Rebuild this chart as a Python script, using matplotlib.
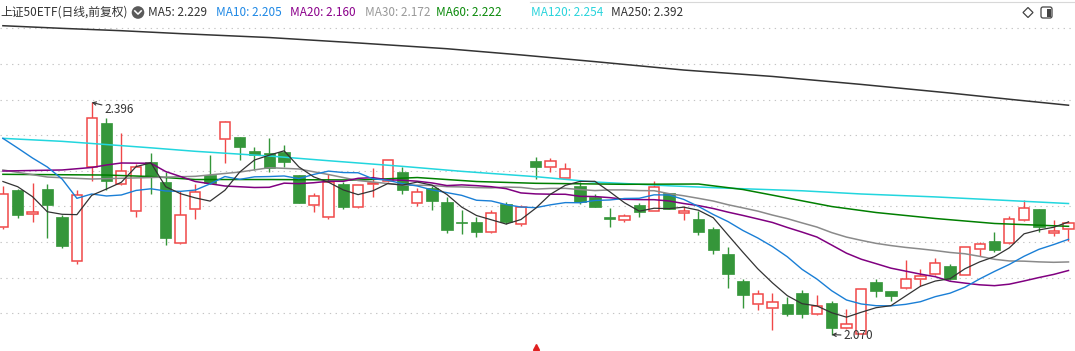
import matplotlib
matplotlib.use("Agg")
import matplotlib.pyplot as plt
from matplotlib.patches import Rectangle, Circle, FancyBboxPatch, Polygon
from matplotlib.lines import Line2D
from matplotlib.transforms import IdentityTransform

plt.rcParams['font.family'] = ['Noto Sans CJK SC', 'DejaVu Sans']

# ---------------- data ----------------
opens = [2.2205, 2.2729, 2.2397, 2.2743, 2.2350, 2.1728, 2.3052, 2.3670, 2.2809, 2.2439,
         2.3122, 2.2837, 2.1980, 2.2458, 2.2935, 2.3441, 2.3473, 2.3277, 2.3249, 2.3263,
         2.2940, 2.2514, 2.2345, 2.2813, 2.2486, 2.2809, 2.2856, 2.2982, 2.2542, 2.2757,
         2.2561, 2.2280, 2.2280, 2.2135, 2.2533, 2.2247, 2.3136, 2.3047, 2.2893, 2.2785,
         2.2626, 2.2350, 2.2313, 2.2519, 2.2439, 2.2682, 2.2411, 2.2322, 2.2182, 2.1831,
         2.1452, 2.1124, 2.1068, 2.1124, 2.1283, 2.0993, 2.1138, 2.0787, 2.0715, 2.1433,
         2.1306, 2.1358, 2.1475, 2.1545, 2.1657, 2.1531, 2.1906, 2.2018, 2.1980, 2.2303,
         2.2458, 2.2121, 2.2177]
highs = [2.2790, 2.2739, 2.2827, 2.2813, 2.2378, 2.2725, 2.3960, 2.3745, 2.3529, 2.3090,
         2.3244, 2.2977, 2.2720, 2.2809, 2.3221, 2.3698, 2.3473, 2.3333, 2.3464, 2.3361,
         2.2945, 2.2687, 2.2959, 2.2837, 2.2800, 2.3038, 2.3146, 2.3057, 2.2753, 2.2790,
         2.2631, 2.2444, 2.2350, 2.2444, 2.2556, 2.2519, 2.3188, 2.3178, 2.3104, 2.2837,
         2.2673, 2.2481, 2.2392, 2.2551, 2.2856, 2.2682, 2.2500, 2.2434, 2.2210, 2.1929,
         2.1480, 2.1325, 2.1278, 2.1222, 2.1325, 2.1255, 2.1171, 2.1054, 2.1340, 2.1484,
         2.1306, 2.1746, 2.1620, 2.1770, 2.1686, 2.1934, 2.1999, 2.2144, 2.2364, 2.2584,
         2.2460, 2.2303, 2.2289]
lows = [2.2177, 2.2341, 2.2285, 2.2060, 2.1920, 2.1695, 2.2860, 2.2729, 2.2800, 2.2355,
        2.2678, 2.1962, 2.1975, 2.2327, 2.2809, 2.3113, 2.3146, 2.3010, 2.2987, 2.3057,
        2.2545, 2.2425, 2.2327, 2.2467, 2.2480, 2.2636, 2.2837, 2.2668, 2.2505, 2.2453,
        2.2130, 2.2116, 2.2074, 2.2130, 2.2247, 2.2228, 2.2879, 2.2987, 2.2893, 2.2537,
        2.2491, 2.2214, 2.2285, 2.2355, 2.2435, 2.2462, 2.2308, 2.2102, 2.1835, 2.1358,
        2.1077, 2.1049, 2.0759, 2.0955, 2.0927, 2.0974, 2.0700, 2.0782, 2.0710, 2.1232,
        2.1175, 2.1344, 2.1381, 2.1536, 2.1466, 2.1531, 2.1807, 2.1863, 2.1978, 2.2300,
        2.2144, 2.2088, 2.2018]
closes = [2.2678, 2.2378, 2.2416, 2.2523, 2.1948, 2.2654, 2.3735, 2.2860, 2.2991, 2.3052,
          2.2916, 2.2060, 2.2373, 2.2696, 2.2823, 2.3679, 2.3338, 2.3221, 2.3033, 2.3127,
          2.2551, 2.2640, 2.2842, 2.2495, 2.2795, 2.2823, 2.3146, 2.2734, 2.2706, 2.2579,
          2.2172, 2.2261, 2.2144, 2.2402, 2.2280, 2.2486, 2.3057, 2.3132, 2.3019, 2.2561,
          2.2491, 2.2327, 2.2359, 2.2425, 2.2767, 2.2462, 2.2434, 2.2144, 2.1891, 2.1555,
          2.1260, 2.1274, 2.1152, 2.0993, 2.0993, 2.1101, 2.0796, 2.0843, 2.1335, 2.1316,
          2.1241, 2.1480, 2.1522, 2.1700, 2.1484, 2.1934, 2.1966, 2.1887, 2.2317, 2.2472,
          2.2205, 2.2154, 2.2261]

ma5 = [2.2849, 2.2776, 2.2636, 2.2425, 2.2389, 2.2384, 2.2655, 2.2744, 2.2838, 2.3058,
       2.3111, 2.2776, 2.2678, 2.2619, 2.2574, 2.2726, 2.2982, 2.3151, 2.3219, 2.3280,
       2.3054, 2.2914, 2.2839, 2.2731, 2.2665, 2.2719, 2.2820, 2.2799, 2.2841, 2.2798,
       2.2667, 2.2490, 2.2372, 2.2312, 2.2252, 2.2315, 2.2474, 2.2671, 2.2795, 2.2851,
       2.2852, 2.2706, 2.2551, 2.2433, 2.2474, 2.2468, 2.2489, 2.2446, 2.2340, 2.2097,
       2.1857, 2.1625, 2.1426, 2.1247, 2.1134, 2.1103, 2.1007, 2.0945, 2.1014, 2.1078,
       2.1106, 2.1243, 2.1379, 2.1452, 2.1485, 2.1624, 2.1721, 2.1794, 2.1918, 2.2115,
       2.2169, 2.2207, 2.2282]
ma10 = [2.3455, 2.3319, 2.3179, 2.3053, 2.2884, 2.2613, 2.2674, 2.2646, 2.2660, 2.2724,
        2.2747, 2.2716, 2.2711, 2.2729, 2.2816, 2.2919, 2.2879, 2.2915, 2.2919, 2.2927,
        2.2890, 2.2948, 2.2995, 2.2975, 2.2972, 2.2887, 2.2867, 2.2819, 2.2786, 2.2731,
        2.2693, 2.2655, 2.2586, 2.2576, 2.2525, 2.2491, 2.2482, 2.2522, 2.2553, 2.2551,
        2.2583, 2.2590, 2.2611, 2.2614, 2.2662, 2.2660, 2.2598, 2.2499, 2.2386, 2.2286,
        2.2162, 2.2057, 2.1936, 2.1793, 2.1616, 2.1480, 2.1316, 2.1186, 2.1130, 2.1106,
        2.1104, 2.1125, 2.1162, 2.1233, 2.1282, 2.1365, 2.1482, 2.1587, 2.1685, 2.1800,
        2.1897, 2.1964, 2.2038]
ma20_idx = [0, 2, 4, 6, 7, 8, 10, 11, 13, 15, 17, 18] + list(range(19, 73))
ma20 = [2.2996, 2.3004, 2.3011, 2.3046, 2.3081, 2.3109, 2.3105, 2.2989, 2.2849, 2.2786,
        2.2765, 2.2768,
        2.2826, 2.2819, 2.2832, 2.2853, 2.2852, 2.2894, 2.2903, 2.2873, 2.2867, 2.2853,
        2.2829, 2.2792, 2.2802, 2.2791, 2.2776, 2.2749, 2.2689, 2.2675, 2.2671, 2.2670,
        2.2641, 2.2638, 2.2623, 2.2599, 2.2595, 2.2594, 2.2576, 2.2540, 2.2511, 2.2470,
        2.2419, 2.2373, 2.2324, 2.2274, 2.2204, 2.2139, 2.2070, 2.1957, 2.1843, 2.1758,
        2.1696, 2.1633, 2.1591, 2.1549, 2.1513, 2.1449, 2.1423, 2.1399, 2.1387, 2.1408,
        2.1453, 2.1501, 2.1545, 2.1600]
ma30_idx = [0, 3, 6, 10, 13, 16, 18, 20, 22, 24, 27] + list(range(29, 73))
ma30 = [2.3011, 2.2912, 2.2884, 2.2905, 2.2922, 2.2982, 2.3043, 2.3025, 2.2947, 2.2863,
        2.2800,
        2.2794, 2.2777, 2.2773, 2.2764, 2.2760, 2.2771, 2.2766, 2.2743, 2.2752, 2.2753,
        2.2736, 2.2722, 2.2731, 2.2731, 2.2722, 2.2720, 2.2679, 2.2649, 2.2613, 2.2575,
        2.2523, 2.2479, 2.2434, 2.2378, 2.2328, 2.2268, 2.2210, 2.2132, 2.2069, 2.2023,
        2.1981, 2.1950, 2.1924, 2.1903, 2.1880, 2.1853, 2.1835, 2.1799, 2.1757, 2.1734,
        2.1731, 2.1721, 2.1715, 2.1720]
ma60_idx = [0, 7, 10, 13, 18, 24, 28, 32, 36, 42, 47, 50, 53, 56, 59, 63, 67, 72]
ma60 = [2.2950, 2.2940, 2.2919, 2.2877, 2.2877, 2.2870, 2.2905, 2.2849, 2.2824, 2.2810,
        2.2814, 2.2737, 2.2618, 2.2498, 2.2414, 2.2330, 2.2260, 2.2220]
ma120_idx = [0, 4, 7, 10, 13, 18, 22, 27, 31, 36, 40, 45, 49, 54, 58, 63, 67, 72]
ma120 = [2.3455, 2.3413, 2.3368, 2.3322, 2.3273, 2.3207, 2.3141, 2.3062, 2.2992, 2.2917,
         2.2842, 2.2789, 2.2755, 2.2719, 2.2674, 2.2633, 2.2592, 2.2540]
ma250_idx = [0, 4, 8, 12, 18, 24, 30, 35, 40, 46, 52, 58, 64, 68, 72]
ma250 = [2.5036, 2.4999, 2.4966, 2.4925, 2.4870, 2.4794, 2.4713, 2.4626, 2.4532, 2.4414,
         2.4324, 2.4212, 2.4091, 2.4004, 2.3920]

grid_levels = [2.10, 2.15, 2.20, 2.25, 2.30, 2.35, 2.40, 2.45, 2.50]
title = "上证50ETF(日线,前复权)"
legend_items = [("MA5: 2.229", "#333333", 148), ("MA10: 2.205", "#1e88e5", 216),
                ("MA20: 2.160", "#8b008b", 290), ("MA30: 2.172", "#999999", 365),
                ("MA60: 2.222", "#0b8a0b", 436), ("MA120: 2.254", "#2ad4dc", 531),
                ("MA250: 2.392", "#333333", 611)]

# ---------------- styling ----------------
UP = "#f04848"
DOWN = "#35963a"
W, H = 1075, 351
fig = plt.figure(figsize=(W / 100, H / 100), dpi=100, facecolor="white")
ax = fig.add_axes([0, 0, 1, 1])
ax.set_facecolor("white")
ax.axis("off")
ax.set_xlim(-0.196, 72.44)
ax.set_ylim(2.0470, 2.5397)

for g in grid_levels:
    ax.axhline(g, color="#c4c4c4", lw=0.8, linestyle=(0, (1.2, 4)), zorder=0)

bw = 0.68
for i, (o, h, l, c) in enumerate(zip(opens, highs, lows, closes)):
    top, bot = max(o, c), min(o, c)
    hgt = max(top - bot, 0.0006)
    if c >= o:
        ax.plot([i, i], [top, h], color=UP, lw=1.0, zorder=2, solid_capstyle="butt")
        ax.plot([i, i], [l, bot], color=UP, lw=1.0, zorder=2, solid_capstyle="butt")
        ax.add_patch(Rectangle((i - bw / 2, bot), bw, hgt, facecolor="white",
                               edgecolor=UP, lw=1.1, zorder=3))
    else:
        ax.plot([i, i], [l, h], color=DOWN, lw=1.0, zorder=2, solid_capstyle="butt")
        ax.add_patch(Rectangle((i - bw / 2 - 0.04, bot), bw + 0.08, hgt, facecolor=DOWN,
                               edgecolor=DOWN, lw=0.5, zorder=3))

x_all = list(range(len(closes)))
ax.plot(ma250_idx, ma250, color="#333333", lw=1.1, zorder=4)
ax.plot(ma120_idx, ma120, color="#22d6de", lw=1.1, zorder=4)
ax.plot(ma60_idx, ma60, color="#007f00", lw=1.1, zorder=4)
ax.plot(ma30_idx, ma30, color="#8a8a8a", lw=1.1, zorder=4)
ax.plot(ma20_idx, ma20, color="#800080", lw=1.1, zorder=4)
ax.plot(x_all, ma10, color="#1a7fd6", lw=1.0, zorder=5)
ax.plot(x_all, ma5, color="#333333", lw=0.9, zorder=6)

# max / min annotations
imax = highs.index(max(highs))
imin = lows.index(min(lows))
ax.annotate(f"{max(highs):.3f}", xy=(imax, max(highs)), xytext=(13, -7),
            textcoords="offset pixels", fontsize=8.5, color="#333333",
            va="center", ha="left",
            arrowprops=dict(arrowstyle="->", color="#333333", lw=0.8,
                            shrinkA=0, shrinkB=0, mutation_scale=6))
ax.annotate(f"{min(lows):.3f}", xy=(imin, min(lows)), xytext=(12, -1),
            textcoords="offset pixels", fontsize=8.5, color="#333333",
            va="center", ha="left",
            arrowprops=dict(arrowstyle="->", color="#333333", lw=0.8,
                            shrinkA=0, shrinkB=0, mutation_scale=6))

# small red signal marker near the bottom
ax.plot([36], [2.0530], marker="^", color="#e02020", markersize=4, zorder=6)
ax.plot([36], [2.0490], marker="s", color="#e02020", markersize=2.2, zorder=6)

# ---------------- header ----------------
ty = 1 - 12 / H
fig.text(0 / W, ty, title, fontsize=8.5, color="#333333", va="center", ha="left")
for txt, col, px in legend_items:
    fig.text(px / W, ty, txt, fontsize=8.5, color=col, va="center", ha="left")

idt = IdentityTransform()
cy = H - 12.5
fig.add_artist(Circle((138, cy), 6.3, transform=idt, facecolor="#5a5a5a", edgecolor="none"))
fig.add_artist(Line2D([134.8, 138, 141.2], [cy + 1.6, cy - 1.6, cy + 1.6], transform=idt,
                      color="white", lw=1.1))
fig.add_artist(Polygon([[1028, cy + 5], [1033, cy], [1028, cy - 5], [1023, cy]], closed=True,
                       transform=idt, facecolor="none", edgecolor="#444444", lw=0.9))
fig.add_artist(FancyBboxPatch((1041, cy - 5.5), 11, 11, boxstyle="round,pad=0,rounding_size=2",
                              transform=idt, facecolor="none", edgecolor="#444444", lw=0.9))
fig.add_artist(Rectangle((1047, cy - 4), 3.5, 8, transform=idt, facecolor="#444444",
                         edgecolor="none"))
fig.add_artist(Line2D([530, 1075], [H - 1.5, H - 1.5], transform=idt, color="#d8d8d8", lw=0.8))

fig.savefig("out.png", dpi=100, facecolor="white")
